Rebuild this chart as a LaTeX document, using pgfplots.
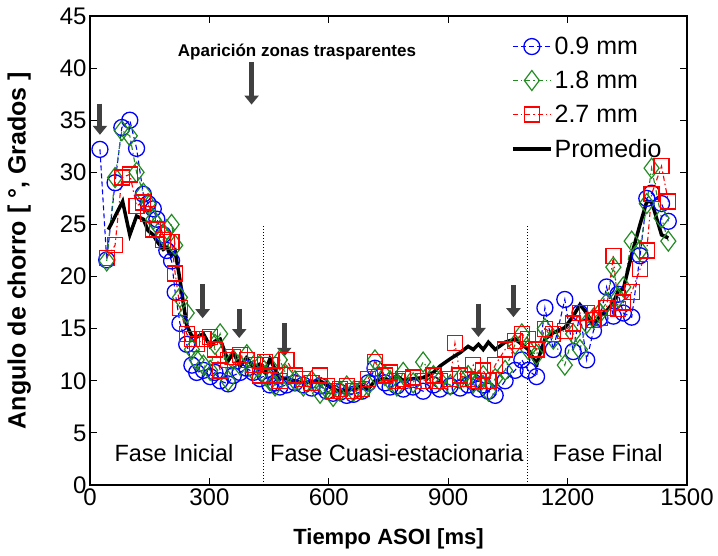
\documentclass[border=0pt]{standalone}
\usepackage{fontspec}
\setmainfont{Liberation Sans}
\usepackage{pgfplots}
\pgfplotsset{compat=1.18}
\usetikzlibrary{arrows.meta}

\pgfplotstableread{
t v
25 32.2
42 21.6
63 29.0
80 34.3
100 35.0
117 32.3
134 27.9
146 27.0
159 26.5
168 25.5
184 24.0
193 22.5
205 21.5
214 18.5
226 15.5
243 13.5
256 11.5
268 10.8
285 11.0
302 10.4
314 10.8
327 10.0
347 9.7
360 10.5
377 10.8
394 11.2
410 10.8
427 10.2
440 10.6
452 9.6
465 9.8
477 9.4
494 9.6
515 9.8
536 9.6
557 9.3
578 9.5
595 9.0
611 8.8
628 8.9
645 8.6
662 8.7
683 9.0
699 9.8
716 11.2
741 9.8
754 9.4
771 9.5
787 9.2
812 9.4
837 9.0
863 9.6
879 9.2
905 9.5
930 9.3
950 9.6
963 9.9
976 9.2
988 9.6
1001 9.0
1018 8.6
1043 10.0
1068 11.0
1085 12.0
1101 11.0
1122 10.4
1143 17.0
1164 13.0
1193 17.8
1214 12.8
1231 16.5
1248 12.0
1265 14.8
1281 16.0
1298 19.0
1315 16.2
1327 18.3
1340 16.5
1361 16.1
1382 22.0
1399 27.5
1411 28.0
1436 27.0
1453 25.3
}\blue

\pgfplotstableread{
t v
42 21.5
63 29.5
80 34.0
100 33.5
117 30.0
134 28.0
146 27.0
159 25.5
168 25.0
184 24.0
193 24.5
205 25.0
214 23.0
226 18.0
243 16.5
256 13.0
268 12.0
285 11.5
302 11.0
314 13.5
327 14.5
347 10.0
360 12.0
377 11.5
394 12.5
410 11.0
427 11.5
440 10.5
452 10.0
465 9.5
477 12.0
494 10.5
515 10.0
536 9.5
557 10.0
578 8.8
595 9.2
611 8.5
628 9.0
645 9.5
662 9.0
683 9.2
699 9.6
716 12.0
741 10.5
754 10.0
771 9.5
787 10.8
812 9.8
837 11.8
863 10.5
879 10.0
905 9.6
930 10.2
950 10.5
963 9.8
976 10.0
988 10.5
1001 9.0
1018 10.2
1043 11.0
1068 13.5
1085 14.5
1101 13.0
1122 12.5
1143 15.0
1164 14.0
1193 11.5
1214 14.5
1231 13.0
1248 15.5
1265 16.0
1281 16.5
1298 17.5
1315 20.9
1327 18.0
1340 19.0
1361 23.4
1382 22.5
1399 27.0
1411 30.4
1436 25.6
1453 23.4
}\green

\pgfplotstableread{
t v
42 21.8
63 23.0
80 29.5
100 29.8
117 26.8
134 27.1
146 26.0
159 24.5
168 24.5
184 23.5
193 23.3
205 23.3
214 20.3
226 17.0
243 14.5
256 14.0
268 13.5
285 14.0
302 14.2
314 13.0
327 11.0
347 12.0
360 12.3
377 12.5
394 12.0
410 11.5
427 10.5
440 11.8
452 11.5
465 10.5
477 10.0
494 12.0
515 10.5
536 10.2
557 9.8
578 10.5
595 9.5
611 9.0
628 9.2
645 9.5
662 9.0
683 9.2
699 10.2
716 11.8
741 10.5
754 10.8
771 10.0
787 10.2
812 10.3
837 10.0
863 10.5
879 10.0
905 10.2
917 13.6
930 10.5
950 10.2
963 11.5
976 10.0
988 11.0
1001 10.0
1018 11.5
1043 13.0
1068 13.8
1085 14.5
1101 14.0
1122 13.0
1143 15.0
1164 14.5
1193 14.8
1214 15.5
1231 16.5
1248 16.5
1265 15.8
1281 16.0
1298 17.0
1315 22.0
1327 16.9
1340 17.5
1361 18.5
1382 20.7
1399 22.5
1411 27.9
1436 30.6
1453 27.2
}\red

\pgfplotstableread{
t v
46 24.5
82 27.2
100 24.0
117 25.8
134 25.5
146 24.4
159 24.0
168 23.4
184 22.6
193 22.8
205 22.0
214 22.4
226 19.7
243 15.3
256 14.3
268 14.2
285 14.5
302 13.3
314 13.8
327 14.0
347 11.9
360 12.7
377 11.4
394 12.2
410 11.3
427 11.6
440 10.9
452 12.1
465 11.1
477 10.3
494 10.2
536 9.8
578 10.0
611 9.2
628 9.0
662 9.2
683 9.5
699 9.2
716 10.0
741 10.2
754 10.0
771 10.5
787 10.0
812 10.2
837 10.3
863 10.8
879 11.4
905 12.1
930 12.7
950 13.3
963 13.0
976 13.5
988 13.0
1001 13.7
1018 13.0
1043 13.7
1068 14.0
1085 13.5
1101 13.0
1122 11.6
1143 14.0
1164 14.6
1193 15.1
1214 16.2
1231 17.3
1248 16.5
1265 15.3
1281 16.2
1298 16.7
1315 17.5
1327 18.6
1340 18.8
1361 22.1
1382 25.0
1399 27.2
1411 27.2
1436 24.0
1453 23.7
}\avg

\definecolor{arrowgray}{RGB}{64,64,64}
\definecolor{mgreen}{RGB}{34,139,34}

\begin{document}
\begin{tikzpicture}
\begin{axis}[
  scale only axis,
  width=597pt, height=469pt,
  xmin=0, xmax=1500, ymin=0, ymax=45,
  xtick={0,300,...,1500}, ytick={0,5,...,45},
  tick align=inside, major tick length=7pt,
  axis line style={line width=1.3pt}, tick style={line width=1pt, black},
  /pgf/number format/assume math mode=true,
  /pgf/number format/1000 sep={},
  tick label style={font=\fontsize{24}{28}\selectfont},
  xlabel={\bfseries Tiempo ASOI [ms]},
  ylabel={\bfseries Angulo de chorro [ °, Grados ]},
  xlabel style={font=\fontsize{22}{26}\selectfont, yshift=-16pt},
  ylabel style={font=\fontsize{25}{29}\selectfont, yshift=22pt},
  clip=false,
  legend cell align=left,
  legend style={at={(0.700,0.964)}, anchor=north west, draw=none, fill=none,
    font=\fontsize{25}{29}\selectfont, row sep=11pt,
    /tikz/every even column/.append style={column sep=3pt}},
  legend image code/.code={\draw[mark repeat=2,mark phase=2,#1] plot coordinates {(0pt,0pt) (19pt,0pt) (38pt,0pt)};},
]
\addplot[blue, line width=1.1pt, dash pattern=on 5pt off 3pt, mark=o, mark size=8pt, mark options={solid, line width=1.3pt}] table[x=t,y=v] {\blue};
\addlegendentry{0.9 mm}
\addplot[mgreen, line width=1.1pt, dash pattern=on 5pt off 3pt on 1.5pt off 3pt, mark=diamond, mark size=10pt, mark options={solid, line width=1.2pt}] table[x=t,y=v] {\green};
\addlegendentry{1.8 mm}
\addplot[red, line width=1.1pt, dash pattern=on 5pt off 3pt on 1.5pt off 3pt, mark=square, mark size=7.5pt, mark options={solid, line width=1.3pt}] table[x=t,y=v] {\red};
\addlegendentry{2.7 mm}
\addplot[black, line width=3.5pt, no marks] table[x=t,y=v] {\avg};
\addlegendentry{Promedio}

\draw[black, dotted, line width=1pt] (axis cs:435,0) -- (axis cs:435,25);
\draw[black, dotted, line width=1pt] (axis cs:1100,0) -- (axis cs:1100,25);

\node[font=\fontsize{23.5}{27}\selectfont] at (axis cs:211,3.1) {Fase Inicial};
\node[font=\fontsize{23.5}{27}\selectfont] at (axis cs:771,3.1) {Fase Cuasi-estacionaria};
\node[font=\fontsize{23.5}{27}\selectfont] at (axis cs:1301,3.1) {Fase Final};
\node[font=\fontsize{17}{20}\selectfont\bfseries] at (axis cs:520,41.5) {Aparición zonas trasparentes};

\draw[arrowgray, line width=5pt, -{Triangle[width=14pt,length=9pt]}] (axis cs:25,36.6) -- (axis cs:25,33.6);
\draw[arrowgray, line width=5pt, -{Triangle[width=14pt,length=9pt]}] (axis cs:406,40.6) -- (axis cs:406,36.5);
\draw[arrowgray, line width=5pt, -{Triangle[width=14pt,length=9pt]}] (axis cs:283,19.3) -- (axis cs:283,16.0);
\draw[arrowgray, line width=5pt, -{Triangle[width=14pt,length=9pt]}] (axis cs:375,16.9) -- (axis cs:375,14.1);
\draw[arrowgray, line width=5pt, -{Triangle[width=14pt,length=9pt]}] (axis cs:488,15.5) -- (axis cs:488,12.3);
\draw[arrowgray, line width=5pt, -{Triangle[width=14pt,length=9pt]}] (axis cs:976,17.4) -- (axis cs:976,14.2);
\draw[arrowgray, line width=5pt, -{Triangle[width=14pt,length=9pt]}] (axis cs:1064,19.2) -- (axis cs:1064,16.1);
\coordinate (O) at (rel axis cs:0,0);
\end{axis}
\path (O) ++(-90pt,-71pt) rectangle ++(718pt,556pt);
\end{tikzpicture}
\end{document}
